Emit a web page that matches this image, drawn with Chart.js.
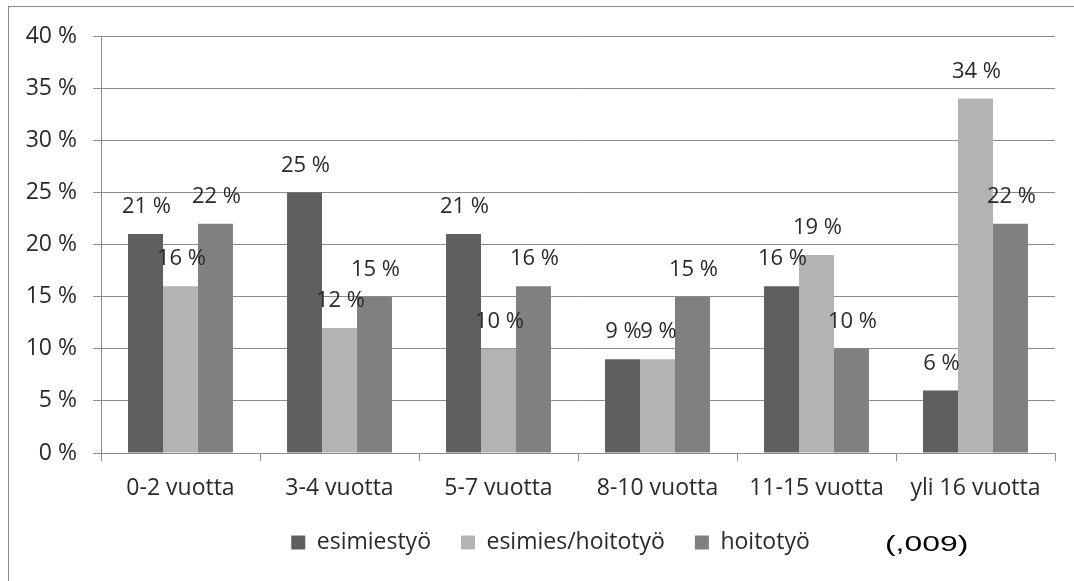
<!DOCTYPE html>
<html>
<head>
<meta charset="utf-8">
<script src="https://cdn.jsdelivr.net/npm/chart.js@4/dist/chart.umd.min.js"></script>
<style>
  html, body { margin: 0; padding: 0; background: #fff; }
  #wrap { width: 1074px; height: 581px; }
</style>
</head>
<body>
<div id="wrap"><canvas id="chart"></canvas></div>
<script>
const categories = ['0-2 vuotta', '3-4 vuotta', '5-7 vuotta', '8-10 vuotta', '11-15 vuotta', 'yli 16 vuotta'];
const esimiestyo = [21, 25, 21, 9, 16, 6];
const esimiesHoitotyo = [16, 12, 10, 9, 19, 34];
const hoitotyo = [22, 15, 16, 15, 10, 22];
const seriesNames = ['esimiestyö', 'esimies/hoitotyö', 'hoitotyö'];
const seriesColors = ['#5f5f5f', '#b3b3b3', '#808080'];
const yTicks = [0, 5, 10, 15, 20, 25, 30, 35, 40];
const note = '(,009)';

const FONT = '"Open Sans", sans-serif';
const TEXT = '#2a2a2a';
const GRID = '#8c8c8c';

// frame around the whole picture + the p-value note
const frame = {
  id: 'frame',
  afterLayout(chart) {
    // legend sits a bit right of the canvas centre in the original
    chart.legend.left += 46;
  },
  beforeDraw(chart) {
    const ctx = chart.ctx;
    ctx.save();
    ctx.fillStyle = '#fff';
    ctx.fillRect(0, 0, chart.width, chart.height);
    ctx.strokeStyle = '#8a8a8a';
    ctx.lineWidth = 1;
    ctx.strokeRect(8.5, 6.5, chart.width + 20, chart.height + 20);
    ctx.restore();
  },
  afterDraw(chart) {
    const ctx = chart.ctx;
    ctx.save();
    ctx.fillStyle = '#000';
    ctx.font = '22px "Liberation Sans", Arial, sans-serif';
    ctx.textBaseline = 'middle';
    ctx.translate(885, 545);
    ctx.scale(1.45, 1);
    ctx.fillText(note, 0, 0);
    ctx.restore();
  }
};

// value labels above each bar
const valueLabels = {
  id: 'valueLabels',
  afterDatasetsDraw(chart) {
    const ctx = chart.ctx;
    ctx.save();
    ctx.font = '22px ' + FONT;
    ctx.fillStyle = TEXT;
    ctx.textAlign = 'center';
    ctx.textBaseline = 'middle';
    chart.data.datasets.forEach((ds, i) => {
      chart.getDatasetMeta(i).data.forEach((bar, j) => {
        ctx.fillText(ds.data[j] + ' %', bar.x + 1, bar.y - 27);
      });
    });
    ctx.restore();
  }
};

new Chart(document.getElementById('chart'), {
  type: 'bar',
  data: {
    labels: categories,
    datasets: [esimiestyo, esimiesHoitotyo, hoitotyo].map((d, i) => ({
      label: seriesNames[i],
      data: d,
      backgroundColor: seriesColors[i],
      borderWidth: 0,
      categoryPercentage: 0.66,
      barPercentage: 1.0
    }))
  },
  options: {
    responsive: true,
    maintainAspectRatio: false,
    animation: false,
    layout: { padding: { left: 0, right: 19, top: 36, bottom: 17 } },
    plugins: {
      tooltip: { enabled: false },
      legend: {
        position: 'bottom',
        labels: {
          boxWidth: 14,
          boxHeight: 14,
          padding: 30,
          color: TEXT,
          font: { family: FONT, size: 23 }
        }
      }
    },
    scales: {
      x: {
        afterFit(scale) { scale.height = 48; },
        grid: {
          offset: true,
          drawOnChartArea: false,
          tickLength: 8,
          color: GRID
        },
        border: { color: GRID },
        ticks: { color: TEXT, padding: 14, font: { family: FONT, size: 23 } }
      },
      y: {
        min: 0,
        max: 40,
        afterFit(scale) { scale.width = 101; },
        afterBuildTicks(scale) { scale.ticks = yTicks.map(v => ({ value: v })); },
        grid: { color: GRID, tickLength: 8 },
        border: { color: GRID },
        ticks: {
          color: TEXT,
          padding: 16,
          font: { family: FONT, size: 23 },
          callback: v => v + ' %'
        }
      }
    }
  },
  plugins: [frame, valueLabels]
});
</script>
</body>
</html>
